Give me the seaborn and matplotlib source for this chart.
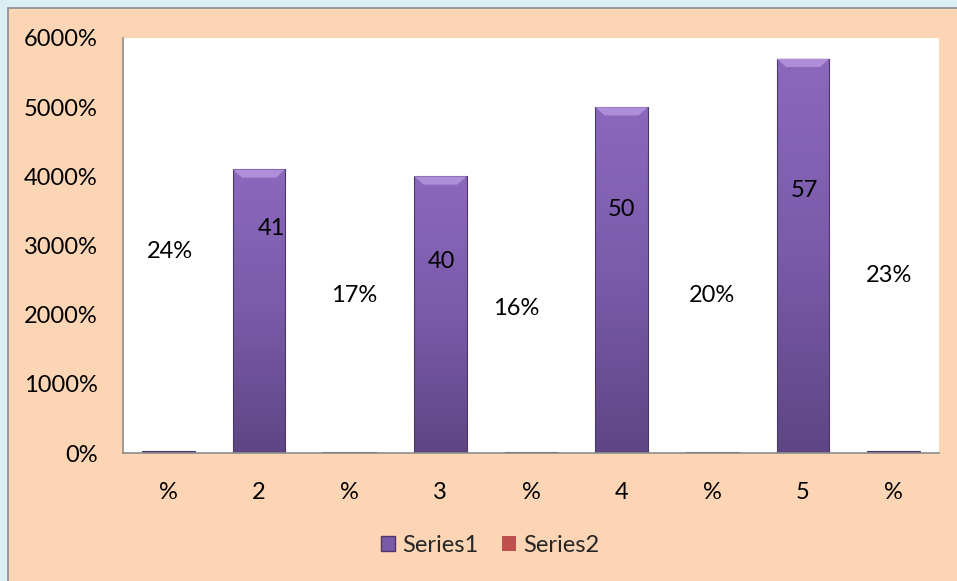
import numpy as np
import pandas as pd
import seaborn as sns
import matplotlib.pyplot as plt
from matplotlib.patches import Rectangle, Patch
from matplotlib.ticker import PercentFormatter, MultipleLocator
from matplotlib.colors import LinearSegmentedColormap

# chart data (values on the % scale: 41 -> 4100%)
categories = ["%", "2", "%", "3", "%", "4", "%", "5", "%"]
series1 = [0.24, 41, 0.17, 40, 0.16, 50, 0.20, 57, 0.23]
series2 = [0, 0, 0, 0, 0, 0, 0, 0, 0]
labels = ["24%", "41", "17%", "40", "16%", "50", "20%", "57", "23%"]

# where Excel left the data labels (manually dragged)
label_y = [29.2, 32.5, 22.8, 27.75, 20.95, 35.25, 22.8, 37.9, 25.7]
label_dx = [0.02, 0.14, 0.05, 0.01, -0.16, 0.0, 0.0, 0.02, -0.05]

df = pd.DataFrame({"cat": range(len(categories)), "Series1": series1})

sns.set_theme(style="white")
plt.rcParams["font.family"] = ["Lato", "DejaVu Sans"]

FS = 17
purple = "#7a5aa6"
red = "#c0504d"

fig = plt.figure(figsize=(9.57, 5.81), dpi=100)
fig.patch.set_facecolor("#daeef3")
# peach chart area with grey border on left/top
fig.patches.append(Rectangle((8 / 957, -0.01), 1, 1.01 - 8 / 581, transform=fig.transFigure,
                             facecolor="#fcd5b5", edgecolor="#8c8c8c", lw=1.2, zorder=-5))

ax = fig.add_axes([123 / 957, 1 - 453 / 581, (939 - 123) / 957, (453 - 38) / 581])
ax.set_facecolor("white")

sns.barplot(data=df, x="cat", y="Series1", color=purple, width=0.58,
            saturation=1, ax=ax)

# light at the top, darker towards the base
cmap = LinearSegmentedColormap.from_list("bar", ["#8c68bd", "#7a5aa9", "#5e4685"])
for bar in list(ax.patches):
    x0, y0 = bar.get_x(), bar.get_y()
    w, h = bar.get_width(), bar.get_height()
    bar.set_facecolor("none")
    bar.set_edgecolor("#4b3766")
    bar.set_linewidth(0.8)
    grad = np.linspace(1, 0, 100).reshape(-1, 1)
    im = ax.imshow(grad, extent=(x0, x0 + w, y0, y0 + h), origin="lower", cmap=cmap,
                   aspect="auto", zorder=bar.get_zorder() - 0.1)
    im.set_clip_path(bar)
    if h > 2:
        # light bevel at the top
        top = plt.Polygon([(x0, y0 + h), (x0 + w, y0 + h), (x0 + w * 0.82, y0 + h - 1.2),
                           (x0 + w * 0.18, y0 + h - 1.2)], closed=True,
                          facecolor="#ae8ed8", edgecolor="none", zorder=bar.get_zorder() + 0.1)
        ax.add_patch(top)

ax.set_xlim(-0.5, len(categories) - 0.5)
ax.set_ylim(0, 60)
ax.yaxis.set_major_locator(MultipleLocator(10))
ax.yaxis.set_major_formatter(PercentFormatter(xmax=1, decimals=0))
ax.set_xticks(range(len(categories)))
ax.set_xticklabels(categories)
ax.set_xlabel("")
ax.set_ylabel("")
ax.tick_params(axis="both", labelsize=FS, colors="black", length=0)
ax.tick_params(axis="x", pad=21)
ax.tick_params(axis="y", pad=18)

for s in ["top", "right"]:
    ax.spines[s].set_visible(False)
for s in ["left", "bottom"]:
    ax.spines[s].set_color("#8c8c8c")
    ax.spines[s].set_linewidth(1.2)

for i, (t, y, dx) in enumerate(zip(labels, label_y, label_dx)):
    ax.text(i + dx, y, t, ha="center", va="center", fontsize=FS, color="black", zorder=5)

handles = [Patch(facecolor=purple, edgecolor="#4b3766", label="Series1"),
           Patch(facecolor=red, edgecolor="none", label="Series2")]
fig.legend(handles=handles, loc="center", bbox_to_anchor=(490 / 957, 1 - 545 / 581),
           ncol=2, frameon=False, fontsize=FS, handlelength=0.6, handleheight=0.6,
           handletextpad=0.3, columnspacing=1.0)

fig.savefig("out.png", dpi=100, facecolor=fig.get_facecolor())
